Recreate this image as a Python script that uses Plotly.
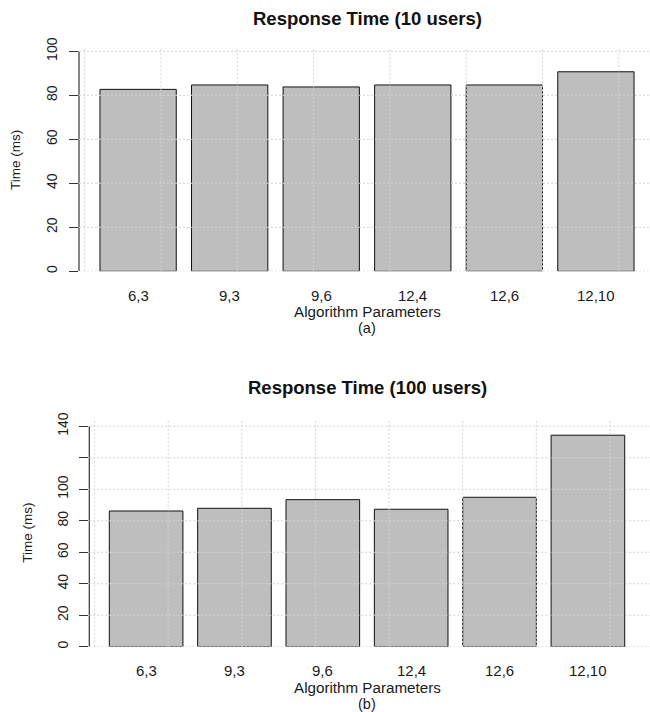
import plotly.graph_objects as go

# ---- data ----
categories = ["6,3", "9,3", "9,6", "12,4", "12,6", "12,10"]
rt_10_users = [82.7, 84.7, 83.8, 84.7, 84.7, 90.7]
rt_100_users = [86.2, 87.9, 93.4, 87.3, 94.9, 134.3]
yticks_10 = [0, 20, 40, 60, 80, 100]
yticks_100 = [0, 20, 40, 60, 80, 100, 120, 140]
ytick_text_100 = ["0", "20", "40", "60", "80", "100", "", "140"]
titles = ["Response Time (10 users)", "Response Time (100 users)"]
xlabel = "Algorithm Parameters"
ylabel = "Time (ms)"
sublabels = ["(a)", "(b)"]

W, H = 650, 712
FONT = "Liberation Sans, Arial, sans-serif"
BAR_FILL = "#BEBEBE"
GRID = "#D3D3D3"
AXC = "#333333"
TXT = "#1a1a1a"

# R barplot: bar width 1, space 0.2 -> category spacing 1.2 R-units
SP = 1.2
OFF = 0.7  # centre of the first bar in R units


def px_x(p):
    return p / W


def px_y(p):
    return 1 - p / H


panels = [
    dict(vals=rt_10_users, ticks=yticks_10, ticktext=[str(t) for t in yticks_10],
         left=79.0, x0=84.7, unit=76.3, ybot=271.3, ytop=49.0, yr=[0, 101.05],
         title_y=18, cat_y=295, xl_y=311, sub_y=328, ylab_x=15, ylab_y=160),
    dict(vals=rt_100_users, ticks=yticks_100, ticktext=ytick_text_100,
         left=89.3, x0=94.57, unit=73.63, ybot=646.8, ytop=419.3, yr=[0, 144.4],
         title_y=387, cat_y=670.5, xl_y=687, sub_y=704, ylab_x=26.7, ylab_y=533),
]

fig = go.Figure()
shapes = []
annotations = []

for i, pnl in enumerate(panels):
    sfx = "" if i == 0 else str(i + 1)
    xa, ya = "x" + sfx, "y" + sfx
    fig.add_trace(go.Bar(
        x=categories, y=pnl["vals"], xaxis=xa, yaxis=ya,
        marker=dict(color=BAR_FILL, line=dict(color="#111111", width=1)),
        showlegend=False, hoverinfo="x+y",
    ))
    # category-range that reproduces R's plot region
    u_left = (pnl["left"] - pnl["x0"]) / pnl["unit"]
    u_right = (W - pnl["x0"]) / pnl["unit"]
    xr = [(u_left - OFF) / SP, (u_right - OFF) / SP]
    fig.layout["xaxis" + sfx] = dict(
        domain=[px_x(pnl["left"]), 1], range=xr, type="category",
        anchor=ya, showgrid=False, zeroline=False, showline=False,
        ticks="", showticklabels=False, fixedrange=True, automargin=False,
    )
    fig.layout["yaxis" + sfx] = dict(
        domain=[px_y(pnl["ybot"]), px_y(pnl["ytop"])], range=pnl["yr"],
        anchor=xa, showgrid=False, zeroline=False, showline=False,
        tickvals=pnl["ticks"], ticktext=pnl["ticktext"], tickangle=-90,
        ticks="outside", ticklen=9, tickwidth=1, tickcolor=AXC,
        tickfont=dict(family=FONT, size=14, color=TXT),
        ticklabelstandoff=6, fixedrange=True, automargin=False,
    )
    # R-style y axis line (from lowest to highest tick)
    shapes.append(dict(type="line", xref=xa + " domain", yref=ya,
                       x0=0, x1=0, y0=min(pnl["ticks"]), y1=max(pnl["ticks"]),
                       line=dict(color=AXC, width=1.2), layer="above"))
    # grid() drawn on top of the bars: horizontal at y ticks
    for t in pnl["ticks"]:
        shapes.append(dict(type="line", xref=xa + " domain", yref=ya,
                           x0=0, x1=1, y0=t, y1=t,
                           line=dict(color=GRID, width=1, dash="2px,2px"), layer="above"))
    # vertical grid at integer R x-units
    for k in range(0, 8):
        shapes.append(dict(type="line", xref=xa, yref=ya + " domain",
                           x0=(k - OFF) / SP, x1=(k - OFF) / SP, y0=0, y1=1,
                           line=dict(color=GRID, width=1, dash="2px,2px"), layer="above"))
    # bar names under the bars
    for c in categories:
        annotations.append(dict(x=c, y=px_y(pnl["cat_y"]), xref=xa, yref="paper",
                                text=c, showarrow=False, xanchor="center", yanchor="middle",
                                font=dict(family=FONT, size=15, color=TXT)))
    cx = pnl["x0"] + 3.7 * pnl["unit"]
    annotations.append(dict(x=px_x(cx), y=px_y(pnl["title_y"]), xref="paper", yref="paper",
                            text="<b>" + titles[i] + "</b>", showarrow=False,
                            xanchor="center", yanchor="middle",
                            font=dict(family=FONT, size=18.5, color="#111111")))
    annotations.append(dict(x=px_x(cx), y=px_y(pnl["xl_y"]), xref="paper", yref="paper",
                            text=xlabel, showarrow=False, xanchor="center", yanchor="middle",
                            font=dict(family=FONT, size=15.2, color=TXT)))
    annotations.append(dict(x=px_x(cx), y=px_y(pnl["sub_y"]), xref="paper", yref="paper",
                            text=sublabels[i], showarrow=False, xanchor="center", yanchor="middle",
                            font=dict(family=FONT, size=14.5, color=TXT)))
    annotations.append(dict(x=px_x(pnl["ylab_x"]), y=px_y(pnl["ylab_y"]), xref="paper", yref="paper",
                            text=ylabel, showarrow=False, textangle=-90,
                            xanchor="center", yanchor="middle",
                            font=dict(family=FONT, size=13.5, color=TXT)))

fig.update_layout(
    template="none",
    width=W, height=H, margin=dict(l=0, r=0, t=0, b=0, pad=0, autoexpand=False),
    paper_bgcolor="white", plot_bgcolor="white",
    bargap=1 - 1 / SP, shapes=shapes, annotations=annotations,
    font=dict(family=FONT), showlegend=False,
)

html = fig.to_html(full_html=True, include_plotlyjs=True, config={"displayModeBar": False})
html = html.replace("<head>", "<head><style>html,body{margin:0;padding:0;overflow:hidden;}</style>", 1)
with open("out.html", "w", encoding="utf-8") as f:
    f.write(html)
# fig.write_html("out.html") equivalent, with zero page margins
